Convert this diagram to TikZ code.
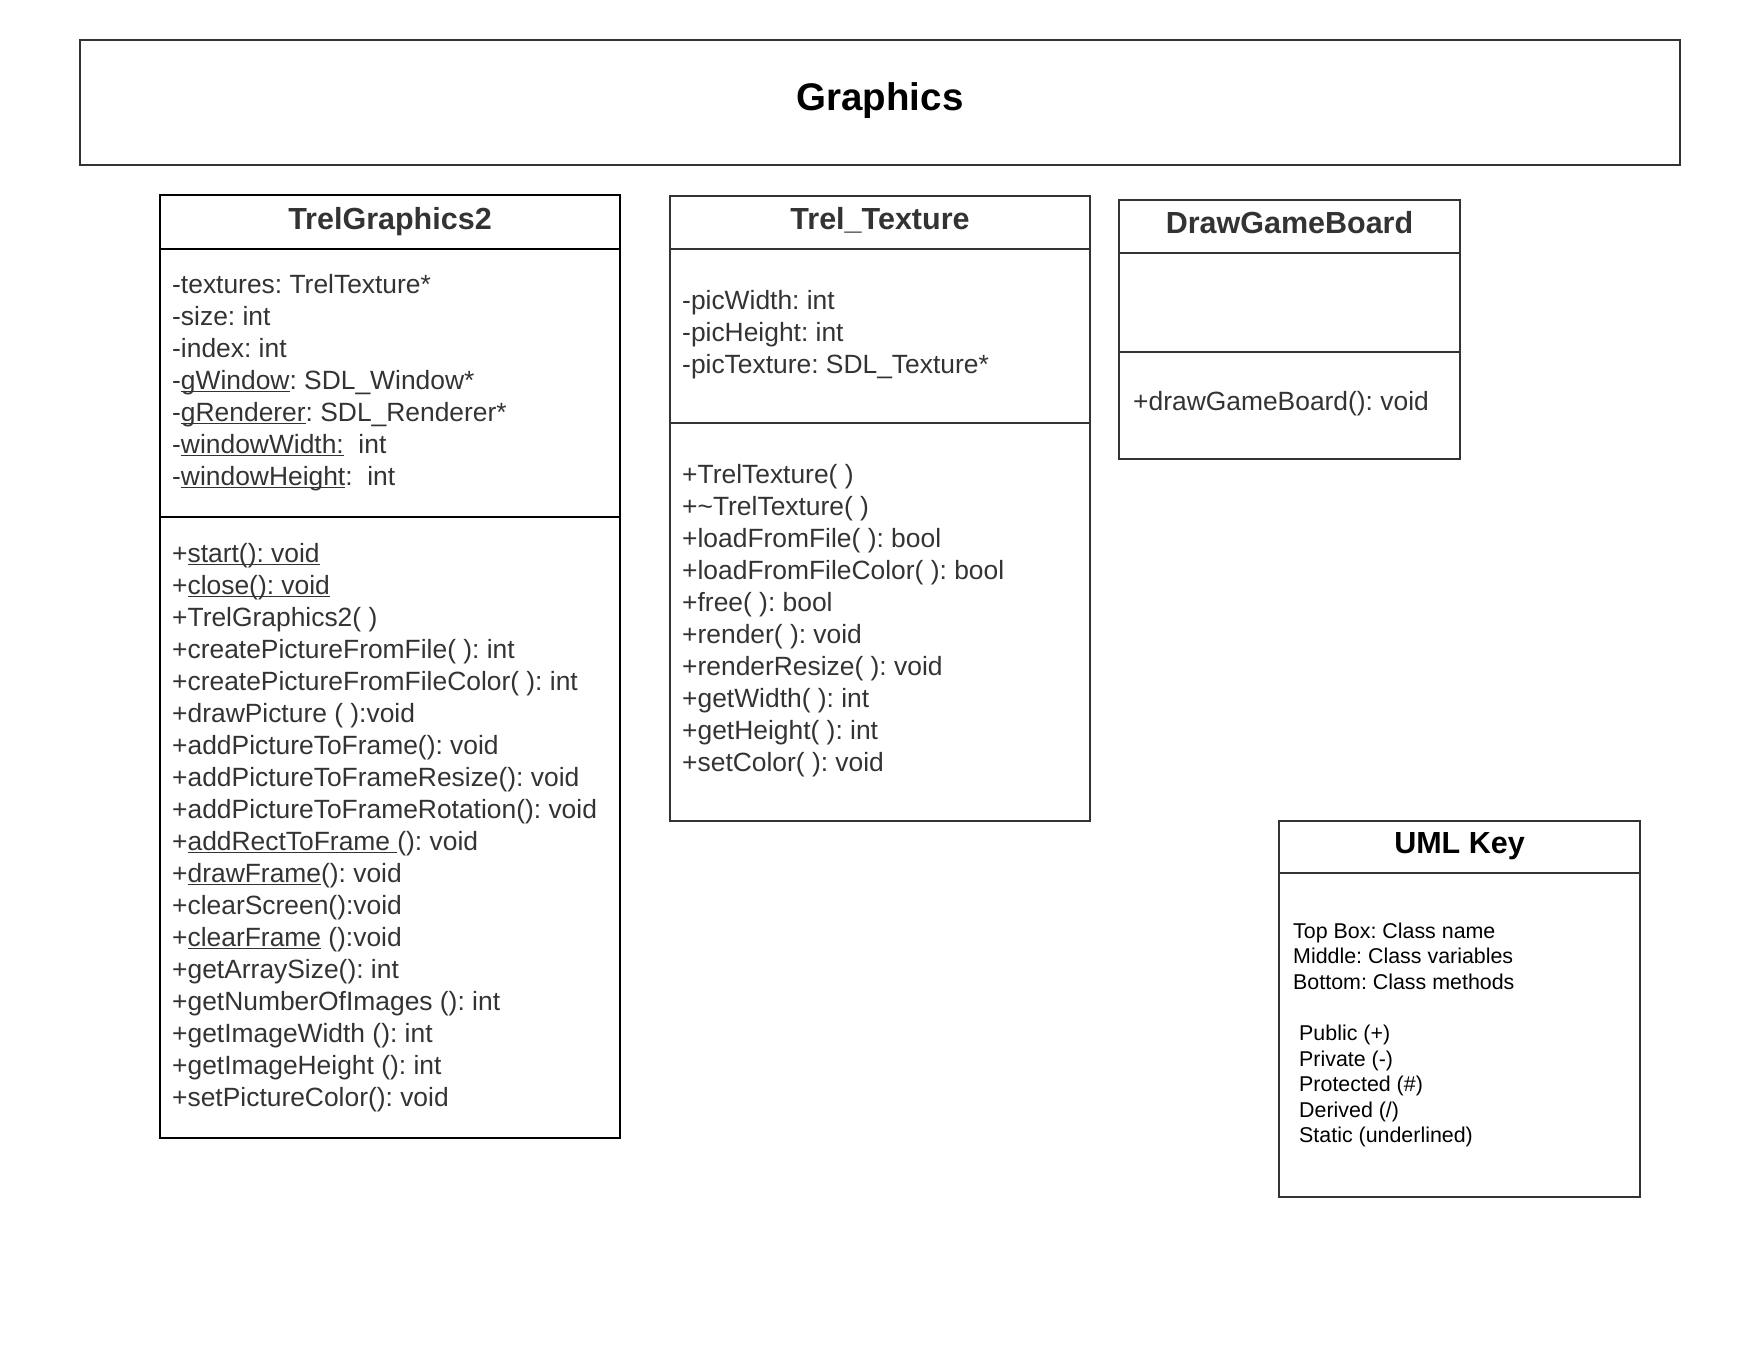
\documentclass[tikz,border=0pt]{standalone}
\usepackage{fontspec}
\setmainfont{Liberation Sans}
\usepackage{tikz}
\definecolor{classgray}{HTML}{333333}
% underline for static members
\newcommand{\statul}[1]{\leavevmode\setbox0=\hbox{#1}\rlap{\rule[-3.4pt]{\wd0}{1.6pt}}\box0\relax}
\tikzset{classbox/.style = {draw=classgray, line width=2pt},
         classname/.style = {anchor=base, inner sep=0pt, text=classgray,
                             font=\bfseries\fontsize{30.5}{36}\selectfont},
         member/.style = {anchor=base west, inner sep=0pt, text=classgray,
                          font=\fontsize{26.4}{32}\selectfont},
         keyline/.style = {anchor=base west, inner sep=0pt,
                           font=\fontsize{21.4}{25.6}\selectfont}}

\begin{document}
\frenchspacing
\begin{tikzpicture}[x=1pt, y=-1pt]
    \useasboundingbox (0, 0) rectangle (1760, 1360);

    % package frame
    \draw [classbox] (80, 40) rectangle (1680, 165);
    \node [anchor=base, inner sep=0pt, font=\bfseries\fontsize{38.5}{46}\selectfont] (graphics) at (880, 110) {Graphics};

    % TrelGraphics2
    \draw [classbox, draw=black] (160, 195) rectangle (620, 1138);
    \draw [classbox, draw=black] (160, 249) -- (620, 249);
    \draw [classbox, draw=black] (160, 517) -- (620, 517);
    \node [classname] (tg) at (390, 229) {TrelGraphics2};
    \foreach \t [count=\i] in {-textures: TrelTexture*, -size: int, -index: int,
        -\statul{gWindow}: SDL\_Window*, -\statul{gRenderer}: SDL\_Renderer*,
        -\statul{windowWidth:}\ \ int, -\statul{windowHeight}:\ \ int} {
      \node [member] (tga\i) at (172, {261+32*\i}) {\t};
    }
    \foreach \t [count=\i] in {+\statul{start(): void}, +\statul{close(): void}, +TrelGraphics2( ),
        +createPictureFromFile( ): int, +createPictureFromFileColor( ): int,
        +drawPicture ( ):void, +addPictureToFrame(): void, +addPictureToFrameResize(): void,
        +addPictureToFrameRotation(): void, +\statul{addRectToFrame\ }(): void,
        +\statul{drawFrame}(): void, +clearScreen():void, +\statul{clearFrame} ():void,
        +getArraySize(): int, +getNumberOfImages (): int, +getImageWidth (): int,
        +getImageHeight (): int, +setPictureColor(): void} {
      \node [member] (tgm\i) at (172, {530+32*\i}) {\t};
    }

    % Trel_Texture
    \draw [classbox] (670, 196) rectangle (1090, 821);
    \draw [classbox] (670, 249) -- (1090, 249);
    \draw [classbox] (670, 423) -- (1090, 423);
    \node [classname] (tt) at (880, 229) {Trel\_Texture};
    \foreach \t [count=\i] in {-picWidth: int, -picHeight: int, -picTexture: SDL\_Texture*} {
      \node [member] (tta\i) at (682, {277+32*\i}) {\t};
    }
    \foreach \t [count=\i] in {+TrelTexture( ), +\textasciitilde TrelTexture( ),
        +loadFromFile( ): bool, +loadFromFileColor( ): bool, +free( ): bool,
        +render( ): void, +renderResize( ): void, +getWidth( ): int,
        +getHeight( ): int, +setColor( ): void} {
      \node [member] (ttm\i) at (682, {451+32*\i}) {\t};
    }

    % DrawGameBoard
    \draw [classbox] (1119, 200) rectangle (1460, 459);
    \draw [classbox] (1119, 253) -- (1460, 253);
    \draw [classbox] (1119, 352) -- (1460, 352);
    \node [classname] (dgb) at (1289.5, 233) {DrawGameBoard};
    \node [member] (dgbm1) at (1133, 410) {+drawGameBoard(): void};

    % key
    \draw [classbox] (1279, 821) rectangle (1640, 1197);
    \draw [classbox] (1279, 873) -- (1640, 873);
    \node [classname, text=black] (key) at (1459.5, 853) {UML Key};
    \foreach \t [count=\i] in {Top Box: Class name, Middle: Class variables, Bottom: Class methods} {
      \node [keyline] (keya\i) at (1293, {912.4+25.6*\i}) {\t};
    }
    \foreach \t [count=\i] in {Public (+), Private (-), Protected (\#), Derived (/), Static (underlined)} {
      \node [keyline] (keyb\i) at (1299, {1014.8+25.6*\i}) {\t};
    }
\end{tikzpicture}
\end{document}
